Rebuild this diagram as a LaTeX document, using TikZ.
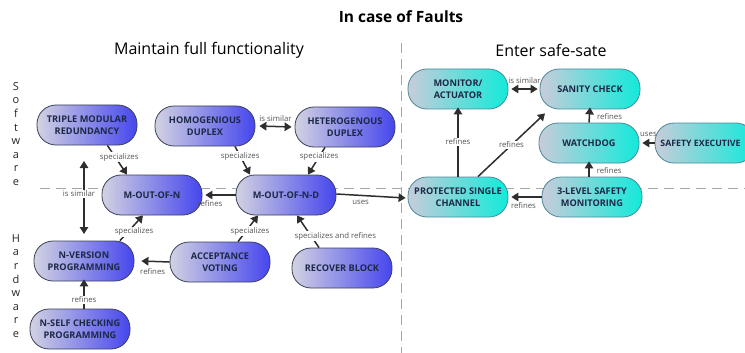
\documentclass[tikz,border=0pt]{standalone}
\usepackage{fontspec}
\setmainfont{Open Sans}
\usetikzlibrary{arrows.meta}
\definecolor{edgec}{HTML}{3A3F5A}
\definecolor{txtc}{HTML}{1C2846}
\definecolor{arrc}{HTML}{2E2E2E}
\definecolor{lblc}{HTML}{555555}
\definecolor{bluel}{HTML}{D2D2E2}
\definecolor{bluer}{HTML}{4646EE}
\definecolor{cyanl}{HTML}{C8CCDA}
\definecolor{cyanr}{HTML}{12EADA}
\definecolor{cyanedge}{HTML}{4A8A9A}
\tikzset{
  bnode/.style={draw=edgec, line width=0.8pt, rounded corners=19pt, minimum width=100pt, minimum height=40pt,
    left color=bluel, right color=bluer, align=center, text=txtc,
    font=\fontsize{9.2}{11.5}\selectfont\bfseries, inner sep=1pt},
  cnode/.style={bnode, draw=cyanedge, left color=cyanl, right color=cyanr},
  arr/.style={draw=arrc, line width=1.5pt, -{Triangle[length=7pt,width=8.5pt]}},
  darr/.style={draw=arrc, line width=1.5pt, {Triangle[length=7pt,width=8.5pt]}-{Triangle[length=7pt,width=8.5pt]}},
  lbl/.style={font=\fontsize{7.8}{8.5}\selectfont, text=lblc, inner sep=1pt},
  wlbl/.style={lbl, fill=white},
  sep/.style={draw=gray!70, line width=1pt, dash pattern=on 10pt off 6pt},
  side/.style={font=\fontsize{11}{13.6}\selectfont, align=center, text=black!85}
}
\begin{document}
\begin{tikzpicture}[x=1pt,y=-1pt]
\useasboundingbox (0,0) rectangle (745,353);
% separators
\coordinate (h0) at (40,188); \coordinate (h1) at (745,188);
\coordinate (v0) at (401,43); \coordinate (v1) at (401,353);
\draw[sep] (h0) -- (h1);
\draw[sep] (v0) -- (v1);
% titles
\node[font=\fontsize{15.5}{18}\selectfont\bfseries] (title) at (401,17) {In case of Faults};
\node[font=\fontsize{16}{18}\selectfont] (left) at (209,50) {Maintain full functionality};
\node[font=\fontsize{16}{18}\selectfont] (right) at (551,50) {Enter safe-sate};
\node[side] (sw) at (16,134) {S\\o\\f\\t\\w\\a\\r\\e};
\node[side] (hw) at (16,286) {H\\a\\r\\d\\w\\a\\r\\e};
% blue nodes
\node[bnode] (tmr) at (87,125) {TRIPLE MODULAR\\REDUNDANCY};
\node[bnode] (hom) at (205,126) {HOMOGENIOUS\\DUPLEX};
\node[bnode] (het) at (345,127) {HETEROGENOUS\\DUPLEX};
\node[bnode] (moon) at (152,195) {M-OUT-OF-N};
\node[bnode] (moond) at (286,195) {M-OUT-OF-N-D};
\node[bnode] (nvp) at (84,261) {N-VERSION\\PROGRAMMING};
\node[bnode] (av) at (220,262) {ACCEPTANCE\\VOTING};
\node[bnode] (rb) at (342,268) {RECOVER BLOCK};
\node[bnode] (nsc) at (80,329) {N-SELF CHECKING\\PROGRAMMING};
% cyan nodes
\node[cnode] (ma) at (458,89) {MONITOR/\\ACTUATOR};
\node[cnode] (sc) at (590,89) {SANITY CHECK};
\node[cnode] (wd) at (589,143) {WATCHDOG};
\node[cnode, font=\fontsize{8.8}{11}\selectfont\bfseries] (se) at (705,143) {SAFETY EXECUTIVE\hspace*{9pt}};
\node[cnode] (psc) at (458,197) {PROTECTED SINGLE\\CHANNEL};
\node[cnode] (tls) at (592,197) {3-LEVEL SAFETY\\MONITORING};
% connectors
\coordinate (simTop) at (84,161);
\coordinate (simBot) at (84,234);
\draw[darr] (simTop) -- node[wlbl, pos=0.45, xshift=-5pt] {is similar} (simBot);
\draw[arr] (tmr.south east) ++(-30,0) coordinate (a1) (a1) -- node[wlbl, pos=0.4, xshift=4pt] {specializes} ([xshift=-25pt]moon.north);
\draw[arr] ([xshift=30pt]hom.south) -- node[wlbl, pos=0.35] {specializes} ([xshift=-36pt]moond.north);
\draw[arr] ([xshift=-20pt]het.south) -- node[wlbl, pos=0.35] {specializes} ([xshift=22pt]moond.north);
\draw[darr] ([xshift=4pt]hom.east) -- node[lbl, above=3pt] {is similar} ([xshift=-3pt]het.east -| het.west);
\draw[arr] (moond.west) -- node[lbl, pos=0.85, below=4pt] {refines} ([xshift=3pt]moon.east);
\draw[arr] ([yshift=1pt]moond.east) -- node[lbl, pos=0.35, below=3pt] {uses} ([xshift=-2pt,yshift=-1pt]psc.west);
\draw[arr] ([xshift=36pt]nvp.north) -- node[wlbl, pos=0.35, xshift=6pt] {specializes} ([xshift=-9pt]moon.south);
\draw[arr] ([xshift=18pt]av.north) -- node[wlbl, pos=0.4, xshift=4pt] {specializes} ([xshift=-28pt]moond.south);
\draw[arr] ([xshift=-23pt]rb.north) -- node[wlbl, pos=0.35, xshift=24pt] {specializes and refines} ([xshift=11pt]moond.south);
\draw[arr] (av.west) -- node[lbl, pos=0.6, below=5pt] {refines} ([xshift=7pt]nvp.east);
\draw[arr] (nsc.north -| nvp.north) -- node[wlbl, pos=0.3] {refines} ([yshift=2pt]nvp.south);
\draw[arr] (psc.north) -- node[wlbl] {refines} ([yshift=2pt]ma.south);
\draw[arr] ([xshift=20pt]psc.north) -- node[wlbl, pos=0.5] {refines} ([xshift=-45pt,yshift=-4pt]sc.south);
\draw[darr] ([xshift=3pt]ma.east) -- node[lbl, above=4pt] {is similar} ([xshift=-2pt]sc.west);
\draw[arr] (wd.north) -- node[lbl, right=6pt, pos=0.4] {refines} ([yshift=2pt]sc.south);
\draw[arr] (se.west) -- node[lbl, above=5pt, pos=0.5] {uses} ([xshift=3pt]wd.east);
\draw[arr] (tls.north -| wd.north) -- node[lbl, right=6pt, pos=0.4] {refines} ([yshift=2pt]wd.south);
\draw[arr] (tls.west) -- node[lbl, pos=0.6, below=4pt] {refines} ([xshift=3pt]psc.east);
\end{tikzpicture}
\end{document}
